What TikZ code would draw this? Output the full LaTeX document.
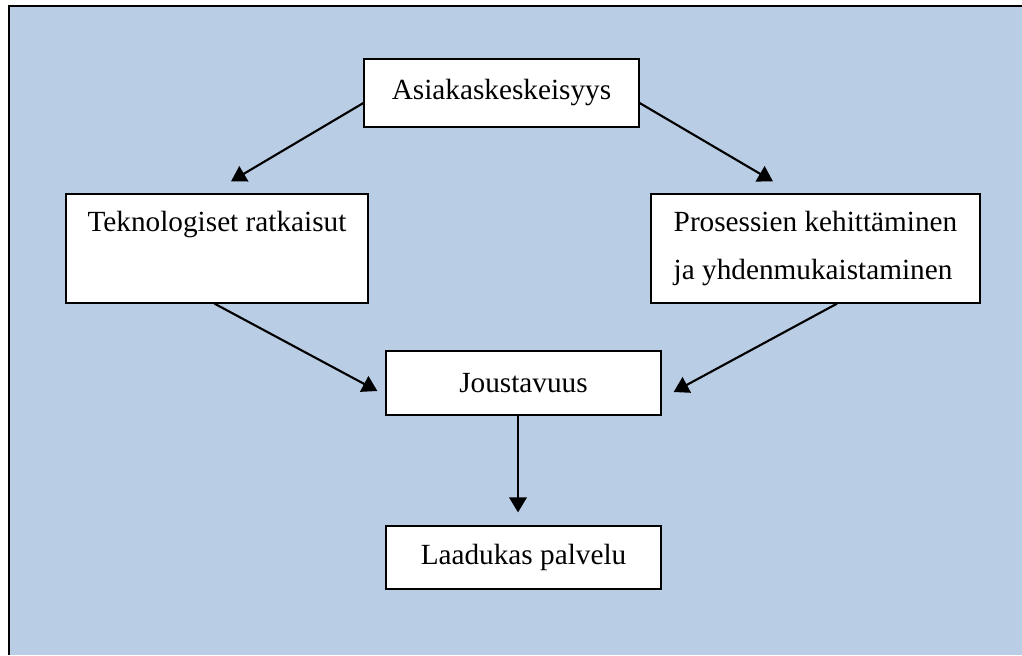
\documentclass[tikz,border=0pt]{standalone}
\usepackage{fontspec}
\setmainfont{Liberation Serif}
\usepackage{tikz}
\usetikzlibrary{arrows.meta, positioning, calc}
\definecolor{panel}{RGB}{185, 205, 228}
\definecolor{darktext}{RGB}{0, 0, 0}

\begin{document}
\begin{tikzpicture}[
    x=0.4pt, y=-0.4pt,
    box/.style={rectangle, draw=darktext, fill=white, line width=0.5pt, inner sep=0pt,
                align=center, font=\fontsize{11.7}{19.2}\selectfont},
    arrow/.style={-{Triangle[length=6pt, width=7pt]}, line width=0.85pt, darktext}
]

% Background
\useasboundingbox (0,0) rectangle (1022,655);
\fill[panel] (9,6) rectangle (1022,655);
\draw[line width=1pt] (9,655) -- (9,6) -- (1022,6);

% Flow
\node[box, minimum width=110pt, minimum height=27.2pt] (asiakas) at (501.5,93) {Asiakaskeskeisyys};
\node[box, minimum width=120.8pt, minimum height=43.6pt] (tekno) at (217,248.5) {Teknologiset ratkaisut\\ \phantom{jy}};
\node[box, align=left, minimum width=131.6pt, minimum height=43.6pt] (prosessi) at (815.5,248.5) {Prosessien kehittäminen\\ja yhdenmukaistaminen};
\node[box, minimum width=110pt, minimum height=25.6pt] (jousto) at (523.5,383) {Joustavuus};
\node[box, minimum width=110pt, minimum height=25.2pt] (laatu) at (523.5,557.5) {Laadukas palvelu};

% Arrows
\draw[arrow] ([yshift=-4pt]asiakas.west) -- ([xshift=5.6pt, yshift=4.8pt]tekno.north);
\draw[arrow] ([yshift=-4pt]asiakas.east) -- ([xshift=-17pt, yshift=4.8pt]prosessi.north);
\draw[arrow] ([xshift=-1pt]tekno.south) -- ([xshift=-3.2pt, yshift=-3.2pt]jousto.west);
\draw[arrow] ([xshift=8.6pt]prosessi.south) -- ([xshift=4.8pt, yshift=-3.6pt]jousto.east);
\draw[arrow, shorten >=5.2pt] ([xshift=-2.2pt]jousto.south) -- ([xshift=-2.2pt]laatu.north);

\end{tikzpicture}
\end{document}
